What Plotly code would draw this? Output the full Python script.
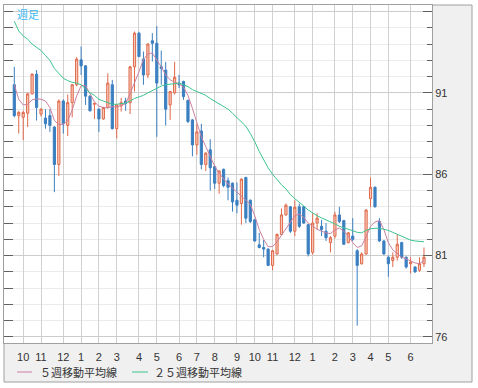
import plotly.graph_objects as go
import pandas as pd

# ---- data (weekly candles) ----
dates = pd.date_range("2014-09-21", periods=93, freq="7D")
date_str = [d.strftime("%Y-%m-%d") for d in dates]

opens = [91.5, 89.6, 89.5, 89.75, 90.94, 92.15, 89.7, 89.45, 89.6, 88.9,
         86.6, 90.5, 89.0, 90.4, 91.5, 93.03, 92.66, 90.8, 90.3, 90.0,
         89.4, 90.1, 91.5, 88.8, 90.2, 90.5, 90.4, 92.6, 94.67, 93.07,
         92.1, 94.2, 94.05, 92.6, 92.4, 90.26, 91.0, 91.6, 91.7, 90.53,
         89.34, 87.8, 88.66, 86.6, 87.5, 86.47, 85.45, 86.3, 85.6, 85.45,
         84.4, 84.2, 85.8, 84.4, 83.2, 81.66, 81.5, 81.4, 80.4, 81.1,
         82.3, 83.5, 84.0, 82.5, 84.0, 84.0, 82.9, 81.2, 83.0, 82.8,
         82.5, 81.8, 82.2, 83.5, 83.15, 81.8, 82.2, 81.3, 80.5, 81.1,
         84.5, 85.2, 83.1, 81.9, 80.9, 80.7, 80.9, 81.8, 80.9, 80.5,
         80.3, 80.1, 80.5]
highs = [92.6, 89.9, 89.9, 91.0, 92.2, 92.4, 90.05, 90.0, 90.0, 88.95,
         90.6, 90.6, 90.9, 91.55, 93.2, 93.85, 92.7, 90.85, 90.4, 90.05,
         90.15, 92.2, 91.8, 90.3, 90.7, 90.7, 92.65, 94.77, 94.75, 93.54,
         94.05, 94.67, 95.1, 93.6, 92.9, 91.1, 92.9, 92.1, 91.75, 90.6,
         89.4, 89.1, 89.1, 87.35, 88.15, 86.5, 86.25, 86.35, 85.8, 85.5,
         85.5, 85.75, 85.85, 84.45, 83.25, 82.4, 81.96, 81.45, 81.35, 82.35,
         83.9, 84.2, 84.05, 84.4, 84.2, 84.05, 82.95, 83.6, 83.6, 83.2,
         83.0, 82.2, 83.7, 84.0, 83.2, 82.45, 83.3, 81.4, 81.2, 83.85,
         85.8, 85.25, 83.3, 81.95, 81.0, 81.2, 82.3, 81.85, 80.95, 80.9,
         80.35, 80.9, 81.5]
lows = [89.5, 88.5, 88.1, 88.9, 90.9, 89.3, 89.55, 88.8, 88.6, 84.9,
        85.9, 88.5, 88.35, 89.5, 91.4, 92.1, 90.26, 89.85, 89.4, 88.6,
        89.35, 90.05, 88.75, 88.2, 89.85, 89.9, 89.7, 91.08, 93.2, 91.5,
        91.9, 92.93, 88.3, 91.5, 89.0, 89.34, 90.9, 91.3, 90.57, 89.14,
        87.1, 87.2, 86.3, 86.2, 85.0, 85.1, 84.8, 85.2, 84.4, 83.7,
        83.6, 82.9, 83.0, 83.0, 81.85, 81.45, 80.9, 80.35, 80.1, 81.05,
        82.25, 83.45, 82.4, 82.2, 82.7, 82.95, 80.95, 81.06, 82.6, 82.2,
        81.9, 81.2, 82.05, 83.0, 81.65, 81.75, 81.9, 76.7, 80.45, 81.05,
        84.0, 83.95, 81.85, 81.05, 79.7, 80.3, 80.7, 80.8, 80.2, 79.9,
        79.95, 80.0, 80.3]
closes = [89.6, 89.8, 89.8, 90.94, 92.15, 90.1, 90.0, 89.1, 89.0, 86.6,
          90.5, 89.1, 90.4, 91.5, 93.07, 92.66, 90.8, 89.9, 90.35, 89.4,
          90.1, 91.6, 88.8, 90.26, 90.4, 90.35, 92.6, 94.67, 93.23, 92.1,
          94.0, 94.05, 91.6, 92.5, 90.0, 91.08, 91.96, 91.5, 90.77, 89.24,
          87.8, 88.6, 86.6, 87.3, 86.4, 85.45, 86.2, 85.3, 85.2, 84.3,
          84.1, 85.7, 83.3, 83.1, 81.9, 81.5, 81.4, 80.4, 81.3, 82.3,
          83.5, 84.1, 82.5, 83.97, 82.8, 83.0, 81.1, 83.0, 83.3, 82.6,
          82.1, 82.1, 83.5, 83.1, 81.7, 82.4, 82.0, 80.4, 81.1, 83.8,
          85.2, 84.0, 81.9, 81.1, 80.5, 80.9, 81.7, 80.9, 80.3, 80.6,
          80.0, 80.5, 80.9]

ma5 = [91.5, 90.6, 90.26, 90.3, 90.57, 90.63, 90.61, 90.5, 90.1, 89.3,
       89.05, 89.08, 89.3, 89.95, 90.8, 91.45, 91.45, 90.95, 90.45, 90.18,
       90.1, 90.08, 90.16, 90.12, 90.25, 90.34, 90.95, 91.6, 92.3, 93.05,
       93.4, 93.45, 93.05, 92.6, 92.1, 91.8, 91.65, 91.56, 91.35, 90.85,
       90.05, 89.1, 88.3, 87.7, 87.05, 86.5, 86.05, 85.7, 85.4, 85.15,
       84.9, 84.6, 84.38, 84.15, 83.45, 82.6, 82.0, 81.55, 81.55, 81.85,
       82.25, 82.67, 83.1, 83.45, 83.55, 83.35, 83.0, 82.8, 82.62, 82.5,
       82.4, 82.35, 82.58, 82.7, 82.5, 82.2, 81.8, 81.5, 81.6, 82.15,
       82.8, 83.07, 83.15, 82.6, 81.8, 81.35, 81.1, 80.9, 80.8, 80.65,
       80.55, 80.5, 80.7]
ma25 = [95.4, 94.8, 94.5, 94.3, 94.0, 93.8, 93.6, 93.3, 93.0, 92.5,
        92.2, 91.9, 91.75, 91.65, 91.6, 91.5, 91.25, 91.0, 90.85, 90.6,
        90.5, 90.38, 90.3, 90.3, 90.32, 90.38, 90.5, 90.66, 90.75, 90.85,
        91.0, 91.15, 91.3, 91.42, 91.5, 91.53, 91.56, 91.6, 91.5, 91.38,
        91.2, 91.08, 91.0, 90.85, 90.65, 90.5, 90.3, 90.15, 90.0, 89.75,
        89.5, 89.25, 88.95, 88.5, 88.0, 87.4, 86.9, 86.4, 86.0, 85.65,
        85.35, 85.1, 84.75, 84.5, 84.3, 84.05, 83.8, 83.6, 83.45, 83.32,
        83.2, 83.1, 82.95, 82.8, 82.72, 82.62, 82.53, 82.43, 82.4, 82.55,
        82.65, 82.68, 82.68, 82.62, 82.55, 82.43, 82.3, 82.18, 82.03, 81.95,
        81.9, 81.87, 81.85]

legend_names = ["５週移動平均線", "２５週移動平均線"]
chart_label = "週足"

# month ticks: first weekly candle of each month
month_first = pd.Series(date_str, index=dates).groupby(
    [dates.year, dates.month]).first()
tick_vals = [v for v in month_first.values if v != date_str[0]]
tick_text = [str(int(v[5:7])) for v in tick_vals]

# ---- styles ----
UP_LINE = "#e0684a"
UP_FILL = "#f7cbbb"
DN = "#3b7fc0"
MA5_C = "#cc7fa0"
MA25_C = "#3cc48e"
FRAME = "#a0a0a0"
TXT = "#333333"

W, H = 478, 388
L, R, T, B = 4, 46, 5, 45
pw, ph = W - L - R, H - T - B


def px_x(px):
    return (px - L) / pw


def px_y(py):
    return (H - B - py) / ph


fig = go.Figure()

fig.add_trace(go.Candlestick(
    x=date_str, open=opens, high=highs, low=lows, close=closes,
    increasing=dict(line=dict(color=UP_LINE, width=1), fillcolor=UP_FILL),
    decreasing=dict(line=dict(color=DN, width=1), fillcolor=DN),
    whiskerwidth=0, showlegend=False, hoverinfo="skip",
))
fig.add_trace(go.Scatter(x=date_str, y=ma5, mode="lines",
                         line=dict(color=MA5_C, width=1),
                         showlegend=False, hoverinfo="skip"))
fig.add_trace(go.Scatter(x=date_str, y=ma25, mode="lines",
                         line=dict(color=MA25_C, width=1),
                         showlegend=False, hoverinfo="skip"))
# helper trace for the left tick axis
fig.add_trace(go.Scatter(x=[date_str[0]], y=[None], yaxis="y2",
                         showlegend=False, hoverinfo="skip"))

yr = [75.63, 96.4]
x0_idx = (L - 14.3) / 4.453
x1_idx = (W - R - 14.3) / 4.453

shapes = [
    dict(type="rect", xref="paper", yref="paper",
         x0=px_x(4), x1=px_x(472), y0=px_y(382), y1=px_y(5),
         fillcolor="#f0f0f0", line=dict(color=FRAME, width=1), layer="below"),
    dict(type="rect", xref="paper", yref="paper",
         x0=0, x1=1, y0=0, y1=1,
         fillcolor="#ffffff", line=dict(width=0), layer="below"),
    dict(type="line", xref="paper", yref="paper",
         x0=px_x(17), x1=px_x(32), y0=px_y(372), y1=px_y(372),
         line=dict(color=MA5_C, width=1)),
    dict(type="line", xref="paper", yref="paper",
         x0=px_x(132), x1=px_x(148), y0=px_y(372), y1=px_y(372),
         line=dict(color=MA25_C, width=1)),
]

jp_font = dict(family="Noto Sans CJK JP", size=11, color=TXT)
annotations = [
    dict(xref="paper", yref="paper", x=px_x(38), y=px_y(372),
         text=legend_names[0], showarrow=False, xanchor="left",
         yanchor="middle", font=jp_font),
    dict(xref="paper", yref="paper", x=px_x(152), y=px_y(372),
         text=legend_names[1], showarrow=False, xanchor="left",
         yanchor="middle", font=jp_font),
    dict(xref="paper", yref="paper", x=px_x(15), y=px_y(14),
         text=chart_label, showarrow=False, xanchor="left",
         yanchor="middle",
         font=dict(family="Noto Sans CJK JP", size=11, color="#3cb8f0")),
]

fig.update_layout(
    width=W, height=H,
    margin=dict(l=L, r=R, t=T, b=B, pad=0),
    paper_bgcolor="#ffffff",
    plot_bgcolor="rgba(0,0,0,0)",
    showlegend=False,
    shapes=shapes,
    annotations=annotations,
    xaxis=dict(
        type="category", range=[x0_idx, x1_idx],
        tickmode="array", tickvals=tick_vals, ticktext=tick_text,
        ticks="", ticklabelstandoff=4,
        showgrid=True, gridcolor="#d0d0d0", gridwidth=1,
        showline=True, mirror=True, linecolor=FRAME, linewidth=1,
        zeroline=False, rangeslider=dict(visible=False),
        tickfont=dict(family="Liberation Sans", size=11, color=TXT),
        automargin=False, fixedrange=True,
    ),
    yaxis=dict(
        side="right", range=yr, tick0=76, dtick=5,
        labelalias={"96": ""},
        ticks="inside", ticklen=9, tickcolor="#606060", tickwidth=1,
        showgrid=True, gridcolor="#cccccc", gridwidth=1,
        minor=dict(tick0=76, dtick=1, ticks="inside", ticklen=5,
                   tickcolor="#606060", showgrid=True, gridcolor="#ebebeb"),
        showline=True, mirror=True, linecolor=FRAME, linewidth=1,
        zeroline=False,
        tickfont=dict(family="Liberation Sans", size=11, color=TXT),
        automargin=False, fixedrange=True,
    ),
    yaxis2=dict(
        overlaying="y", side="left", range=yr, tick0=76, dtick=1,
        ticks="inside", ticklen=9, tickcolor="#606060",
        showticklabels=False, showgrid=False, zeroline=False,
        showline=False, automargin=False, fixedrange=True,
    ),
)

fig.write_html(
    "out.html",
    config={"displayModeBar": False, "staticPlot": True},
    post_script="document.body.style.margin='0px';"
                "document.body.style.padding='0px';",
)
